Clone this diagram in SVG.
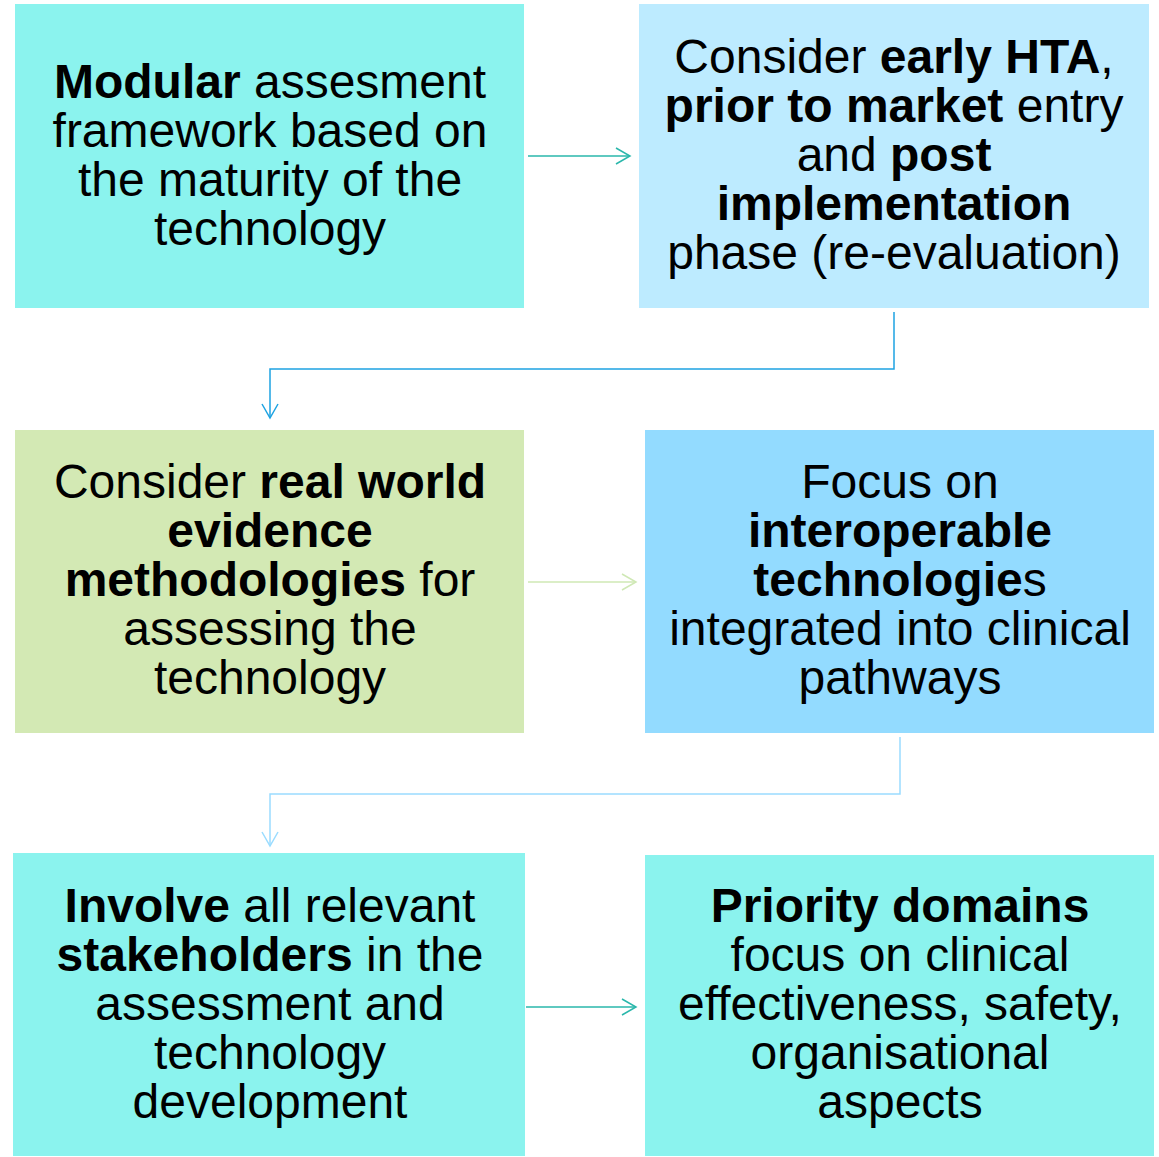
<svg xmlns="http://www.w3.org/2000/svg" width="1159" height="1157" viewBox="0 0 1159 1157">
<defs>
<style>
text{font-family:"Liberation Sans",Arial,sans-serif;font-size:48px;fill:#000;text-anchor:middle}
.b{font-weight:bold}
.c{fill:none;stroke-width:1.5}
</style>
<marker id="mt" markerWidth="20" markerHeight="20" refX="15" refY="9" orient="auto" markerUnits="userSpaceOnUse"><path d="M1,1 L15,9 L1,17" fill="none" stroke="#2ab7ab" stroke-width="1.5"/></marker>
<marker id="mb" markerWidth="20" markerHeight="20" refX="15" refY="9" orient="auto" markerUnits="userSpaceOnUse"><path d="M1,1 L15,9 L1,17" fill="none" stroke="#1ea3e2" stroke-width="1.5"/></marker>
<marker id="mg" markerWidth="20" markerHeight="20" refX="15" refY="9" orient="auto" markerUnits="userSpaceOnUse"><path d="M1,1 L15,9 L1,17" fill="none" stroke="#cfe8b5" stroke-width="1.5"/></marker>
<marker id="ml" markerWidth="20" markerHeight="20" refX="15" refY="9" orient="auto" markerUnits="userSpaceOnUse"><path d="M1,1 L15,9 L1,17" fill="none" stroke="#9adcff" stroke-width="1.5"/></marker>
</defs>
<rect width="1159" height="1157" fill="#fff"/>
<g id="n1"><rect x="15" y="4" width="509" height="304" fill="#8bf3ee"/>
<text x="270" y="98"><tspan class="b">Modular</tspan> assesment</text>
<text x="270" y="147">framework based on</text>
<text x="270" y="196">the maturity of the</text>
<text x="270" y="245">technology</text></g>
<g id="n2"><rect x="639" y="4" width="510" height="304" fill="#bdebff"/>
<text x="894" y="73">Consider <tspan class="b">early HTA</tspan>,</text>
<text x="894" y="122"><tspan class="b">prior to market</tspan> entry</text>
<text x="894" y="171">and <tspan class="b">post</tspan></text>
<text x="894" y="220" class="b">implementation</text>
<text x="894" y="269">phase (re-evaluation)</text></g>
<g id="n3"><rect x="15" y="430" width="509" height="303" fill="#d3e9b4"/>
<text x="270" y="498">Consider <tspan class="b">real world</tspan></text>
<text x="270" y="547" class="b">evidence</text>
<text x="270" y="596"><tspan class="b">methodologies</tspan> for</text>
<text x="270" y="645">assessing the</text>
<text x="270" y="694">technology</text></g>
<g id="n4"><rect x="645" y="430" width="509" height="303" fill="#93dbff"/>
<text x="900" y="498">Focus on</text>
<text x="900" y="547" class="b">interoperable</text>
<text x="900" y="596"><tspan class="b">technologie</tspan>s</text>
<text x="900" y="645">integrated into clinical</text>
<text x="900" y="694">pathways</text></g>
<g id="n5"><rect x="13" y="853" width="512" height="303" fill="#8bf3ee"/>
<text x="270" y="922"><tspan class="b">Involve</tspan> all relevant</text>
<text x="270" y="971"><tspan class="b">stakeholders</tspan> in the</text>
<text x="270" y="1020">assessment and</text>
<text x="270" y="1069">technology</text>
<text x="270" y="1118">development</text></g>
<g id="n6"><rect x="645" y="855" width="509" height="301" fill="#8bf3ee"/>
<text x="900" y="922" class="b">Priority domains</text>
<text x="900" y="971">focus on clinical</text>
<text x="900" y="1020">effectiveness, safety,</text>
<text x="900" y="1069">organisational</text>
<text x="900" y="1118">aspects</text></g>
<g id="connectors">
<path class="c" d="M528,156 H630" stroke="#2ab7ab" marker-end="url(#mt)"/>
<path class="c" d="M894,312 V369 H270 V418" stroke="#1ea3e2" marker-end="url(#mb)"/>
<path class="c" d="M528,582 H636" stroke="#cfe8b5" marker-end="url(#mg)"/>
<path class="c" d="M900,737 V794 H270 V846" stroke="#9adcff" marker-end="url(#ml)"/>
<path class="c" d="M526,1007 H636" stroke="#2ab7ab" marker-end="url(#mt)"/>
</g>
</svg>
